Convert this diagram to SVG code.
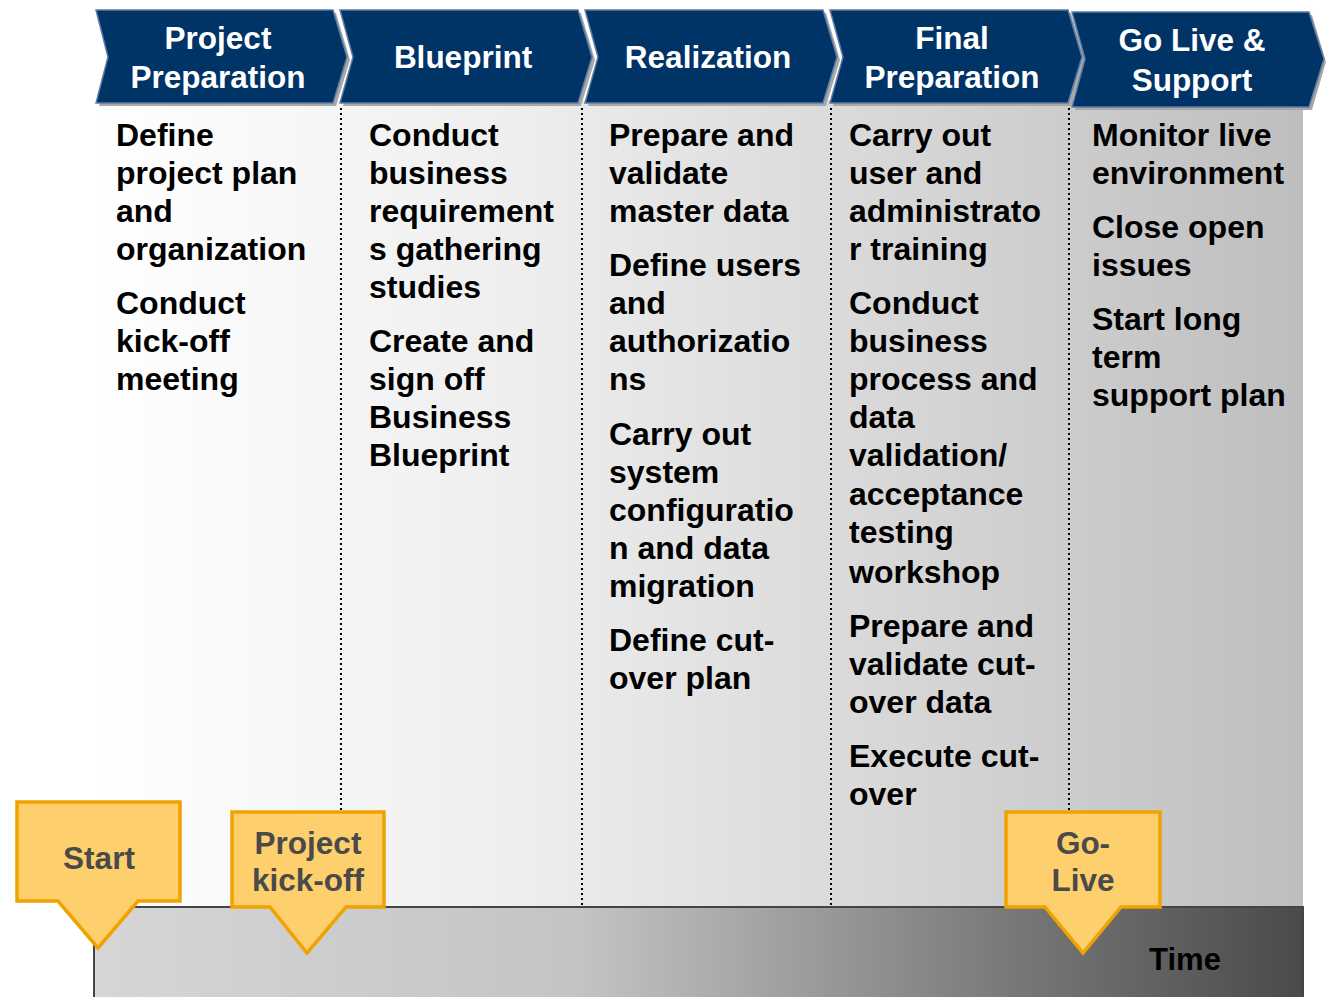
<svg xmlns="http://www.w3.org/2000/svg" width="1327" height="997" viewBox="0 0 1327 997">
<defs>
<linearGradient id="bg" x1="0" y1="0" x2="1" y2="0">
<stop offset="0" stop-color="#ffffff"/>
<stop offset="0.35" stop-color="#eeeeee"/>
<stop offset="1" stop-color="#bebebe"/>
</linearGradient>
<linearGradient id="tl" x1="0" y1="0" x2="1" y2="0">
<stop offset="0" stop-color="#d6d6d6"/>
<stop offset="0.4" stop-color="#c4c4c4"/>
<stop offset="0.75" stop-color="#7a7a7a"/>
<stop offset="1" stop-color="#4a4a4a"/>
</linearGradient>
<style>
.hd{font-family:"Liberation Sans",Arial,sans-serif;font-weight:bold;font-size:31.5px;fill:#ffffff;text-anchor:middle}
.bd{font-family:"Liberation Sans",Arial,sans-serif;font-weight:bold;font-size:32px;fill:#000000}
.co{font-family:"Liberation Sans",Arial,sans-serif;font-weight:bold;font-size:31.5px;fill:#4a4a4a;text-anchor:middle}
.chev{fill:#003366;stroke:#5d7ba3;stroke-width:1.5}
.sh{fill:#a8a8a8}
.dot{stroke:#000;stroke-width:2;stroke-dasharray:2,3;fill:none}
.call{fill:#fecf6d;stroke:#f0a300;stroke-width:3.5;stroke-linejoin:miter}
</style>
</defs>

<rect x="95" y="100" width="1208" height="808" fill="url(#bg)"/>

<g id="timeline">
<rect x="94" y="907" width="1209" height="92" fill="url(#tl)" stroke="#444" stroke-width="2"/>
<text x="1185" y="970" class="bd" text-anchor="middle" style="font-size:31px">Time</text>
</g>

<g id="connectors">
<line class="dot" x1="341" y1="108" x2="341" y2="905"/>
<line class="dot" x1="582" y1="108" x2="582" y2="905"/>
<line class="dot" x1="831" y1="108" x2="831" y2="905"/>
<line class="dot" x1="1069" y1="108" x2="1069" y2="812"/>
</g>

<g id="phase1">
<polygon class="sh" points="99,13 336,13 350,60 336,106 99,106 111,60"/>
<polygon class="chev" points="96,10 333,10 347,57 333,103 96,103 108,57"/>
<text class="hd" x="218" y="49">Project</text>
<text class="hd" x="218" y="88">Preparation</text>
</g>
<g id="phase2">
<polygon class="sh" points="343,13 581,13 595,60 581,106 343,106 356,60"/>
<polygon class="chev" points="340,10 578,10 592,57 578,103 340,103 353,57"/>
<text class="hd" x="463" y="68">Blueprint</text>
</g>
<g id="phase3">
<polygon class="sh" points="588,13 826,13 840,60 826,106 588,106 601,60"/>
<polygon class="chev" points="585,10 823,10 837,57 823,103 585,103 598,57"/>
<text class="hd" x="708" y="68">Realization</text>
</g>
<g id="phase4">
<polygon class="sh" points="833,13 1071,13 1085,60 1071,106 833,106 846,60"/>
<polygon class="chev" points="830,10 1068,10 1082,57 1068,103 830,103 843,57"/>
<text class="hd" x="952" y="49">Final</text>
<text class="hd" x="952" y="88">Preparation</text>
</g>
<g id="phase5">
<polygon class="sh" points="1075,15 1312,15 1326,62 1312,110 1075,110 1088,62"/>
<polygon class="chev" points="1072,12 1309,12 1324,59 1309,107 1072,107 1085,59"/>
<text class="hd" x="1192" y="51">Go Live &amp;</text>
<text class="hd" x="1192" y="91">Support</text>
</g>

<g id="col1">
<text class="bd" x="116" y="146">Define</text>
<text class="bd" x="116" y="184">project plan</text>
<text class="bd" x="116" y="222">and</text>
<text class="bd" x="116" y="260">organization</text>
<text class="bd" x="116" y="314">Conduct</text>
<text class="bd" x="116" y="352">kick-off</text>
<text class="bd" x="116" y="390">meeting</text>
</g>
<g id="col2">
<text class="bd" x="369" y="146">Conduct</text>
<text class="bd" x="369" y="184">business</text>
<text class="bd" x="369" y="222">requirement</text>
<text class="bd" x="369" y="260">s gathering</text>
<text class="bd" x="369" y="298">studies</text>
<text class="bd" x="369" y="352">Create and</text>
<text class="bd" x="369" y="390">sign off</text>
<text class="bd" x="369" y="428">Business</text>
<text class="bd" x="369" y="466">Blueprint</text>
</g>
<g id="col3">
<text class="bd" x="609" y="146">Prepare and</text>
<text class="bd" x="609" y="184">validate</text>
<text class="bd" x="609" y="222">master data</text>
<text class="bd" x="609" y="276">Define users</text>
<text class="bd" x="609" y="314">and</text>
<text class="bd" x="609" y="352">authorizatio</text>
<text class="bd" x="609" y="390">ns</text>
<text class="bd" x="609" y="445">Carry out</text>
<text class="bd" x="609" y="483">system</text>
<text class="bd" x="609" y="521">configuratio</text>
<text class="bd" x="609" y="559">n and data</text>
<text class="bd" x="609" y="597">migration</text>
<text class="bd" x="609" y="651">Define cut-</text>
<text class="bd" x="609" y="689">over plan</text>
</g>
<g id="col4">
<text class="bd" x="849" y="146">Carry out</text>
<text class="bd" x="849" y="184">user and</text>
<text class="bd" x="849" y="222">administrato</text>
<text class="bd" x="849" y="260">r training</text>
<text class="bd" x="849" y="314">Conduct</text>
<text class="bd" x="849" y="352">business</text>
<text class="bd" x="849" y="390">process and</text>
<text class="bd" x="849" y="428">data</text>
<text class="bd" x="849" y="466">validation/</text>
<text class="bd" x="849" y="505">acceptance</text>
<text class="bd" x="849" y="543">testing</text>
<text class="bd" x="849" y="583">workshop</text>
<text class="bd" x="849" y="637">Prepare and</text>
<text class="bd" x="849" y="675">validate cut-</text>
<text class="bd" x="849" y="713">over data</text>
<text class="bd" x="849" y="767">Execute cut-</text>
<text class="bd" x="849" y="805">over</text>
</g>
<g id="col5">
<text class="bd" x="1092" y="146">Monitor live</text>
<text class="bd" x="1092" y="184">environment</text>
<text class="bd" x="1092" y="238">Close open</text>
<text class="bd" x="1092" y="276">issues</text>
<text class="bd" x="1092" y="330">Start long</text>
<text class="bd" x="1092" y="368">term</text>
<text class="bd" x="1092" y="406">support plan</text>
</g>

<g id="start">
<polygon class="call" points="17,802 180,802 180,901 138,901 98,948 58,901 17,901"/>
<text class="co" x="99" y="869">Start</text>
</g>
<g id="kickoff">
<polygon class="call" points="232,812 384,812 384,907 346,907 307,953 270,907 232,907"/>
<text class="co" x="308" y="854">Project</text>
<text class="co" x="308" y="891">kick-off</text>
</g>
<g id="golive">
<polygon class="call" points="1006,812 1160,812 1160,907 1121,907 1083,953 1045,907 1006,907"/>
<text class="co" x="1083" y="854">Go-</text>
<text class="co" x="1083" y="891">Live</text>
</g>
</svg>
